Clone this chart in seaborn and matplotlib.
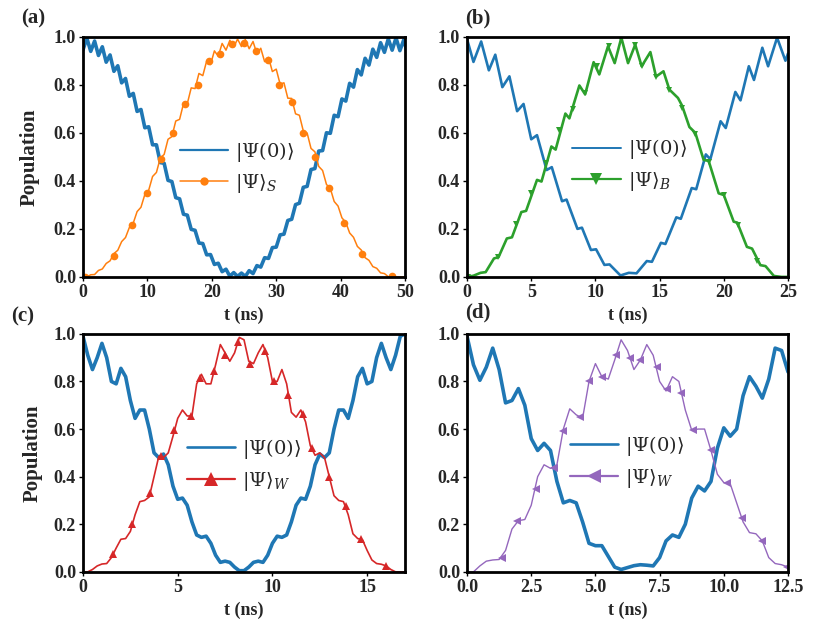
import matplotlib
matplotlib.use("Agg")
import numpy as np
import matplotlib.pyplot as plt
import seaborn as sns
from matplotlib.lines import Line2D

# ---------------- (a) |Psi>_S , 0-50 ns ----------------
t_a = np.round(np.arange(0, 50.41, 0.6), 2)
blue_a = [0.945, 0.994, 0.939, 0.982, 0.922, 0.958, 0.894, 0.924, 0.856, 0.879,
          0.808, 0.826, 0.752, 0.764, 0.689, 0.697, 0.621, 0.625, 0.550, 0.550,
          0.476, 0.473, 0.402, 0.397, 0.330, 0.325, 0.261, 0.257, 0.198, 0.194,
          0.141, 0.139, 0.092, 0.093, 0.052, 0.057, 0.022, 0.032, 0.003, 0.018,
          0.002, 0.016, 0.002, 0.026, 0.014, 0.047, 0.041, 0.080, 0.077, 0.122,
          0.124, 0.175, 0.178, 0.235, 0.240, 0.301, 0.307, 0.373, 0.377, 0.447,
          0.451, 0.524, 0.526, 0.600, 0.598, 0.673, 0.667, 0.741, 0.732, 0.806,
          0.790, 0.863, 0.841, 0.910, 0.882, 0.948, 0.914, 0.975, 0.935, 0.991,
          0.944, 0.995, 0.942, 0.987, 0.929]
orange_a = [0.0, 0.0, 0.009, 0.010, 0.027, 0.033, 0.056, 0.067, 0.097, 0.111,
            0.147, 0.164, 0.206, 0.224, 0.272, 0.290, 0.343, 0.361, 0.418, 0.435,
            0.495, 0.510, 0.573, 0.584, 0.649, 0.656, 0.721, 0.722, 0.787, 0.784,
            0.847, 0.838, 0.899, 0.884, 0.941, 0.919, 0.972, 0.944, 0.985, 0.957,
            0.990, 0.959, 0.988, 0.950, 0.980, 0.929, 0.952, 0.896, 0.914, 0.855,
            0.865, 0.803, 0.808, 0.744, 0.743, 0.679, 0.673, 0.608, 0.599, 0.535,
            0.521, 0.460, 0.443, 0.385, 0.368, 0.314, 0.295, 0.246, 0.227, 0.183,
            0.165, 0.127, 0.112, 0.080, 0.069, 0.043, 0.036, 0.017, 0.014, 0.001,
            0.0, 0.0, 0.0, 0.0, 0.0]
mk_t_a = [0.3, 4.77, 7.67, 10.0, 12.18, 14.0, 15.9, 17.9, 19.5, 21.3, 23.2,
          25.0, 26.8, 28.65, 30.5, 32.4, 34.1, 36.0, 38.2, 40.6, 43.3, 47.9]
mk_y_a = [0.0, 0.088, 0.218, 0.351, 0.49, 0.598, 0.72, 0.80, 0.90, 0.93, 0.971,
          0.975, 0.94, 0.905, 0.80, 0.73, 0.60, 0.50, 0.37, 0.226, 0.095, 0.002]

# ---------------- (b) |Psi>_B , 0-25 ns ----------------
t_b_blue = [0, 0.5, 1.1, 1.7, 2.2, 2.75, 3.3, 3.9, 4.4, 5.0, 5.45, 6.2, 6.6, 7.4,
            7.75, 8.6, 8.95, 9.65, 10.05, 10.7, 11.1, 11.95, 12.6, 13.2, 14.0,
            14.4, 15.1, 15.45, 16.3, 16.65, 17.5, 17.85, 18.6, 18.95, 19.75,
            20.15, 20.9, 21.3, 21.95, 22.35, 23.0, 23.45, 24.15, 24.8, 25.0]
blue_b = [0.99, 0.895, 0.98, 0.86, 0.925, 0.79, 0.835, 0.69, 0.72, 0.573, 0.59,
          0.445, 0.457, 0.315, 0.322, 0.2, 0.205, 0.112, 0.115, 0.05, 0.052,
          0.006, 0.017, 0.015, 0.066, 0.063, 0.142, 0.137, 0.248, 0.242, 0.37,
          0.365, 0.51, 0.49, 0.648, 0.62, 0.77, 0.735, 0.877, 0.82, 0.954, 0.877,
          0.996, 0.9, 0.93]
t_b_green = [0, 0.5, 1.05, 1.45, 2.1, 2.45, 3.1, 3.5, 4.23, 4.6, 5.45, 5.8, 6.57,
             6.9, 7.66, 7.97, 8.75, 9.2, 9.86, 10.3, 10.98, 11.5, 12.02, 12.54,
             13.1, 13.6, 14.28, 14.72, 15.3, 15.76, 16.43, 16.75, 17.32, 17.78,
             18.43, 18.82, 19.6, 20.0, 20.77, 21.05, 21.8, 22.2, 22.85, 23.25,
             23.9, 24.5, 25.0]
green_b = [0.0, 0.005, 0.017, 0.02, 0.077, 0.082, 0.16, 0.165, 0.27, 0.275, 0.404,
           0.397, 0.543, 0.53, 0.68, 0.66, 0.797, 0.76, 0.894, 0.843, 0.96, 0.89,
           0.996, 0.89, 0.967, 0.877, 0.936, 0.834, 0.856, 0.78, 0.745, 0.713,
           0.624, 0.6, 0.487, 0.483, 0.348, 0.341, 0.23, 0.226, 0.125, 0.118,
           0.049, 0.045, 0.004, 0.0, 0.0]
mk_t_b = [0.1, 2.4, 3.85, 5.0, 6.15, 7.2, 8.25, 9.2, 10.15, 11.05, 12.0, 13.1,
          13.6, 14.72, 15.76, 16.74, 17.78, 18.85, 20.0, 21.1, 22.6]
mk_y_b = [0.0, 0.083, 0.222, 0.35, 0.476, 0.61, 0.70, 0.766, 0.877, 0.96, 0.99,
          0.965, 0.88, 0.834, 0.78, 0.703, 0.597, 0.478, 0.34, 0.215, 0.065]

# ---------------- (c) |Psi>_W , 0-17 ns ----------------
t_c = np.round(np.arange(0, 17.01, 0.25), 2)
blue_c = [0.99, 0.91, 0.85, 0.90, 0.96, 0.90, 0.80, 0.79, 0.855, 0.82, 0.72,
          0.645, 0.68, 0.68, 0.60, 0.50, 0.48, 0.495, 0.45, 0.36, 0.305, 0.31,
          0.28, 0.21, 0.155, 0.145, 0.15, 0.12, 0.07, 0.04, 0.045, 0.04, 0.02,
          0.005, 0.005, 0.02, 0.04, 0.045, 0.04, 0.07, 0.12, 0.15, 0.145, 0.155,
          0.21, 0.28, 0.31, 0.305, 0.36, 0.45, 0.495, 0.48, 0.50, 0.60, 0.68,
          0.68, 0.645, 0.72, 0.82, 0.855, 0.79, 0.80, 0.90, 0.96, 0.90, 0.85,
          0.91, 0.99, 1.0]
red_c = [0.0, 0.0, 0.01, 0.025, 0.033, 0.035, 0.06, 0.10, 0.137, 0.14, 0.17,
         0.24, 0.295, 0.30, 0.315, 0.40, 0.485, 0.48, 0.50, 0.57, 0.645, 0.68,
         0.655, 0.655, 0.79, 0.83, 0.79, 0.79, 0.87, 0.955, 0.92, 0.885, 0.92,
         0.985, 0.975, 0.885, 0.875, 0.92, 0.955, 0.90, 0.80, 0.80, 0.85, 0.79,
         0.67, 0.65, 0.68, 0.63, 0.53, 0.49, 0.50, 0.48, 0.40, 0.32, 0.30, 0.295,
         0.24, 0.16, 0.14, 0.135, 0.09, 0.05, 0.035, 0.032, 0.025, 0.01, 0.0,
         0.0, 0.0]
mk_t_c = [1.6, 2.6, 3.55, 4.12, 4.83, 5.72, 6.15, 6.93, 7.5, 8.2, 8.83, 9.6, 10.1,
          10.83, 11.6, 12.08, 13.0, 13.9, 14.68, 15.97]
mk_y_c = [0.075, 0.2, 0.33, 0.487, 0.595, 0.655, 0.815, 0.845, 0.91, 0.965,
          0.875, 0.93, 0.80, 0.745, 0.665, 0.52, 0.40, 0.275, 0.138, 0.025]

# ---------------- (d) |Psi>_W , 0-12.5 ns ----------------
t_d = np.round(np.arange(0, 12.51, 0.25), 2)
blue_d = [0.99, 0.87, 0.805, 0.86, 0.94, 0.85, 0.71, 0.72, 0.77, 0.70, 0.56,
          0.51, 0.54, 0.51, 0.38, 0.29, 0.30, 0.29, 0.21, 0.12, 0.11, 0.11,
          0.065, 0.02, 0.01, 0.018, 0.026, 0.03, 0.028, 0.025, 0.06, 0.13,
          0.155, 0.145, 0.2, 0.31, 0.36, 0.34, 0.38, 0.52, 0.605, 0.57, 0.60,
          0.74, 0.82, 0.78, 0.73, 0.81, 0.94, 0.93, 0.84]
purple_d = [0.0, 0.0, 0.025, 0.045, 0.05, 0.052, 0.09, 0.18, 0.215, 0.22, 0.28,
            0.40, 0.45, 0.435, 0.45, 0.60, 0.685, 0.66, 0.645, 0.80, 0.875, 0.82,
            0.81, 0.89, 0.975, 0.93, 0.85, 0.89, 0.955, 0.91, 0.80, 0.76, 0.82,
            0.80, 0.68, 0.595, 0.60, 0.60, 0.51, 0.41, 0.375, 0.37, 0.29, 0.21,
            0.165, 0.16, 0.13, 0.06, 0.035, 0.03, 0.02]
mk_t_d = [1.35, 1.95, 2.68, 3.4, 3.72, 4.4, 4.75, 5.25, 5.8, 6.33, 6.75, 7.38,
          7.8, 8.33, 8.8, 9.5, 10.12, 10.7, 11.5, 12.45]
mk_y_d = [0.06, 0.215, 0.35, 0.435, 0.59, 0.65, 0.80, 0.82, 0.91, 0.90, 0.89,
          0.86, 0.77, 0.75, 0.595, 0.51, 0.373, 0.225, 0.13, 0.022]

yticks = [0.0, 0.2, 0.4, 0.6, 0.8, 1.0]
blue = "#1f77b4"

sns.set_style("ticks")
plt.rcParams["font.family"] = ["Liberation Serif", "DejaVu Sans"]
plt.rcParams["mathtext.fontset"] = "dejavuserif"

fig = plt.figure(figsize=(8.3, 6.44), dpi=100)


def panel(rect, tb, yb, blue_lw, tc, yc, color, lw, mt, my, marker, ms,
          label, xmax, xticks, xticklabels, leg, ylabel=None, ylab_x=-0.13):
    ax = fig.add_axes(rect)
    sns.lineplot(x=tb, y=yb, ax=ax, color=blue, linewidth=blue_lw,
                 sort=False, estimator=None)
    sns.lineplot(x=tc, y=yc, ax=ax, color=color, linewidth=lw,
                 sort=False, estimator=None)
    ax.plot(mt, my, linestyle="none", marker=marker, ms=ms, color=color,
            markeredgewidth=0)
    ax.set_xlim(0, xmax)
    ax.set_ylim(0, 1)
    ax.set_xticks(xticks)
    ax.set_xticklabels(xticklabels, fontweight="bold")
    ax.set_yticks(yticks)
    ax.set_yticklabels([f"{v:.1f}" for v in yticks], fontweight="bold")
    for s in ax.spines.values():
        s.set_linewidth(2.0)
        s.set_color("black")
    ax.tick_params(labelsize=13, width=1.0, length=3, pad=2, color="black")
    ax.set_xlabel("t (ns)", fontsize=13, fontweight="bold")
    ax.xaxis.set_label_coords(0.5, -0.125)
    if ylabel:
        ax.set_ylabel(ylabel, fontsize=15, fontweight="bold")
        ax.yaxis.set_label_coords(ylab_x, 0.5)
    else:
        ax.set_ylabel("")
    # legend: (blue lw, colour lw, marker size, x centre, y centre)
    blw, clw, lms, lx, ly = leg
    handles = [Line2D([], [], color=blue, lw=blw),
               Line2D([], [], color=color, lw=clw, marker=marker, ms=lms,
                      markeredgewidth=0)]
    ax.legend(handles, [r"$|\Psi(0)\rangle$", label], loc="center",
              bbox_to_anchor=(lx, ly), frameon=False, fontsize=14,
              handlelength=2.5, labelspacing=0.45, handletextpad=0.35)
    return ax


panel([0.100, 0.570, 0.388, 0.373], t_a, blue_a, 2.6, t_a, orange_a, "#ff7f0e",
      1.1, mk_t_a, mk_y_a, "o", 5.5, r"$|\Psi\rangle_S$", 50,
      [0, 10, 20, 30, 40, 50], ["0", "10", "20", "30", "40", "50"],
      (1.6, 1.1, 6, 0.478, 0.456), ylabel="Population", ylab_x=-0.134)
panel([0.5627, 0.570, 0.3867, 0.373], t_b_blue, blue_b, 1.9, t_b_green, green_b,
      "#2ca02c", 1.9, mk_t_b, mk_y_b, "v", 5, r"$|\Psi\rangle_B$", 25,
      [0, 5, 10, 15, 20, 25], ["0", "5", "10", "15", "20", "25"],
      (1.4, 1.6, 8, 0.506, 0.465))
panel([0.100, 0.112, 0.388, 0.3696], t_c, blue_c, 2.6, t_c, red_c, "#d62728",
      1.2, mk_t_c, mk_y_c, "^", 6, r"$|\Psi\rangle_W$", 17,
      [0, 5, 10, 15], ["0", "5", "10", "15"],
      (1.9, 1.6, 10, 0.50, 0.45), ylabel="Population", ylab_x=-0.124)
panel([0.5627, 0.112, 0.3867, 0.3696], t_d, blue_d, 2.6, t_d, purple_d, "#9467bd",
      1.0, mk_t_d, mk_y_d, "<", 6, r"$|\Psi\rangle_W$", 12.5,
      [0, 2.5, 5, 7.5, 10, 12.5], ["0.0", "2.5", "5.0", "7.5", "10.0", "12.5"],
      (1.9, 1.6, 10, 0.498, 0.462))

for x, y, s in [(0.026, 0.972, "(a)"), (0.560, 0.972, "(b)"),
                (0.014, 0.509, "(c)"), (0.560, 0.514, "(d)")]:
    fig.text(x, y, s, fontsize=15, fontweight="bold", va="center", ha="left")

fig.savefig("out.png", dpi=100)
